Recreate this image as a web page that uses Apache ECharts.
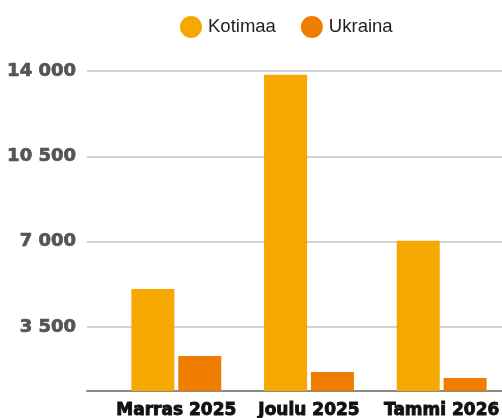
<!DOCTYPE html>
<html><head><meta charset="utf-8">
<script src="https://cdn.jsdelivr.net/npm/echarts@6/dist/echarts.min.js"></script>
<style>html,body{margin:0;padding:0;background:#fff}#c{width:502px;height:418px}</style>
</head><body><div id="c"></div>
<script>
const categories = ['Marras 2025', 'Joulu 2025', 'Tammi 2026'];
const kotimaa = [5060, 13850, 7030];
const ukraina = [2310, 1650, 1400];
const yTicks = [3500, 7000, 10500, 14000];
const yMin = 870;
const yMax = 14000;

const fmt = v => String(v).replace(/\B(?=(\d{3})+(?!\d))/g, ' ');

const chart = echarts.init(document.getElementById('c'), null, {renderer: 'canvas'});
chart.setOption({
  animation: false,
  legend: {
    left: 175, top: 11,
    icon: 'circle', itemWidth: 22, itemHeight: 22, itemGap: 25,
    textStyle: {fontFamily: 'Liberation Sans', fontSize: 18.5, color: '#222', padding: [0,0,0,1]},
    data: ['Kotimaa', 'Ukraina']
  },
  grid: [
    {left: 87, right: 0, top: 71, bottom: 27, outerBoundsMode: 'none', containLabel: false},
    {left: 110, right: -6, top: 71, bottom: 27, outerBoundsMode: 'none', containLabel: false}
  ],
  xAxis: [
    {gridIndex: 0, type: 'category', data: categories,
     axisLine: {show: true, lineStyle: {color: '#8a8a8a', width: 2}},
     axisTick: {show: false}, axisLabel: {show: false}},
    {gridIndex: 1, type: 'category', data: categories,
     axisLine: {show: false}, axisTick: {show: false},
     axisLabel: {interval: 0, margin: 11, fontFamily: 'DejaVu Sans', fontWeight: 'bold', fontSize: 17, color: '#111',
       textBorderColor: '#111', textBorderWidth: 0.9}}
  ],
  yAxis: [
    {gridIndex: 0, type: 'value', min: yMin, max: yMax,
     axisLine: {show: false}, axisTick: {show: false, customValues: yTicks},
     axisLabel: {customValues: yTicks, formatter: fmt, margin: 11,
       fontFamily: 'DejaVu Sans', fontWeight: 'bold', fontSize: 18, color: '#555', padding: [3,0,0,0],
       textBorderColor: '#555', textBorderWidth: 0.7},
     splitLine: {show: true, lineStyle: {color: '#d2d2d2', width: 2}}},
    {gridIndex: 1, type: 'value', min: yMin, max: yMax, show: false, splitLine: {show: false}}
  ],
  series: [
    {name: 'Kotimaa', type: 'bar', xAxisIndex: 1, yAxisIndex: 1, data: kotimaa, clip: true,
     barWidth: 43, barGap: '9%', itemStyle: {color: '#F5A800'}},
    {name: 'Ukraina', type: 'bar', xAxisIndex: 1, yAxisIndex: 1, data: ukraina, clip: true,
     barWidth: 43, barGap: '9%', itemStyle: {color: '#EF7E00'}}
  ]
});
</script></body></html>
